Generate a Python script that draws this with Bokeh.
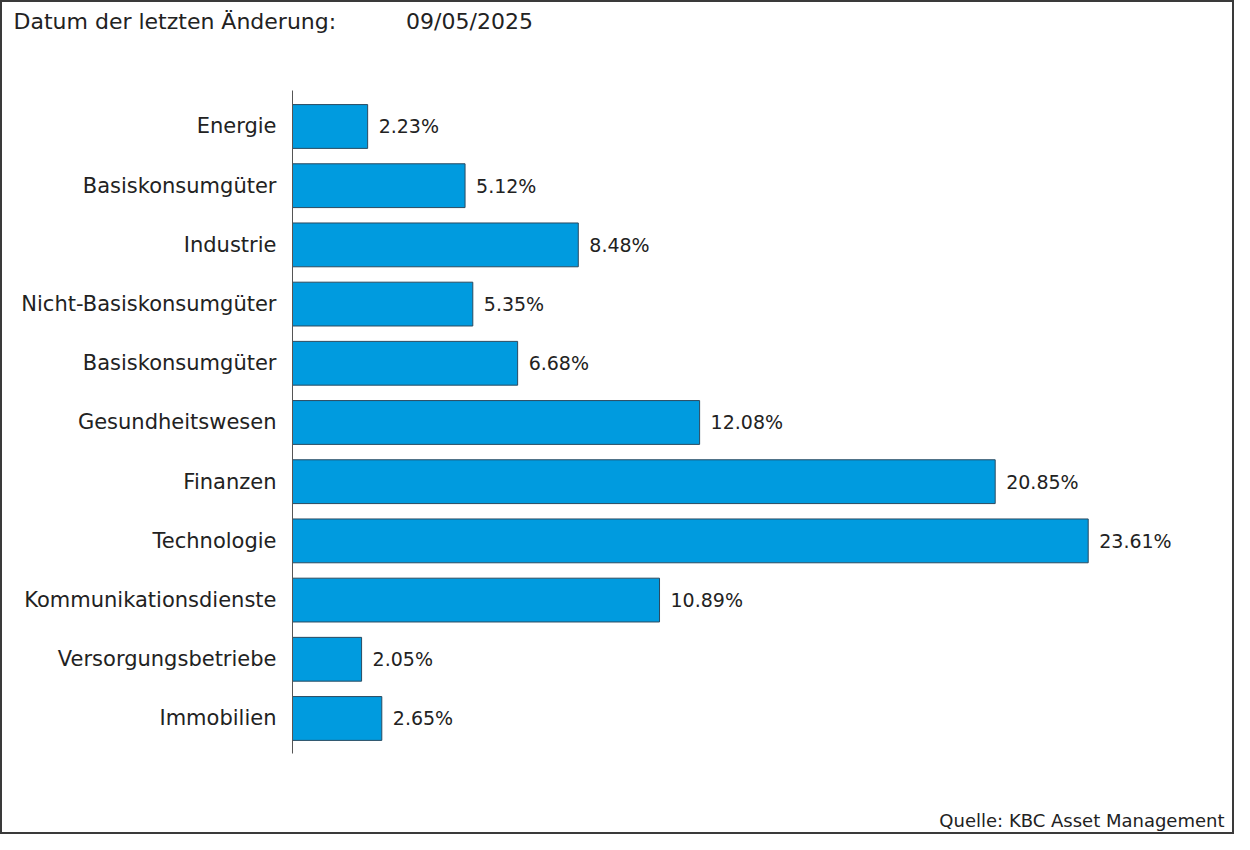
from bokeh.plotting import figure
from bokeh.models import Range1d, FixedTicker, Title, ColumnDataSource
from bokeh.core.properties import value
from bokeh.embed import file_html
from bokeh.resources import INLINE

categories = ["Energie", "Basiskonsumgüter", "Industrie", "Nicht-Basiskonsumgüter",
              "Basiskonsumgüter", "Gesundheitswesen", "Finanzen", "Technologie",
              "Kommunikationsdienste", "Versorgungsbetriebe", "Immobilien"]
weights = [2.23, 5.12, 8.48, 5.35, 6.68, 12.08, 20.85, 23.61, 10.89, 2.05, 2.65]
title_text = "Datum der letzten Änderung:"
date_text = "09/05/2025"
source_text = "Quelle: KBC Asset Management"

FONT = "DejaVu Sans"
TXT = "#222222"

pos = list(range(len(categories)))
src = ColumnDataSource(dict(
    y=pos, w=weights, lbl=[f"{v:.2f}%" for v in weights]))

p = figure(width=1234, height=834, output_backend="svg", toolbar_location=None,
           x_range=Range1d(0, 28.01), y_range=Range1d(11.47, -1.520),
           min_border_left=290, min_border_right=0, min_border_top=34,
           min_border_bottom=31)
p.styles = {"border": "2px solid #3a3a3a"}
p.outline_line_color = None
p.xgrid.visible = False
p.ygrid.visible = False
p.xaxis.visible = False
p.background_fill_color = "white"
p.border_fill_color = "white"

yax = p.yaxis[0]
yax.ticker = FixedTicker(ticks=pos)
yax.bounds = (-0.608, 10.59)
yax.major_label_overrides = {i: c for i, c in zip(pos, categories)}
yax.major_tick_line_color = None
yax.minor_tick_line_color = None
yax.axis_line_color = "#555555"
yax.axis_line_width = 1
yax.major_label_standoff = 10
yax.major_label_text_font = FONT
yax.major_label_text_font_size = "21px"
yax.major_label_text_color = TXT

p.hbar(y="y", left=0, right="w", height=0.74, source=src,
       fill_color="#009BDF", line_color="#2a4a60", line_width=1)
p.text(x="w", y="y", text="lbl", source=src, x_offset=11,
       text_align="left", text_baseline="middle",
       text_font=value(FONT), text_font_size="19px", text_color=TXT)

NB = "\u00a0"
head = Title(text=title_text + NB * 10 + date_text, align="left", offset=-279,
             standoff=6, text_font=FONT, text_font_size="22px",
             text_font_style="normal", text_color=TXT)
p.add_layout(head, "above")

foot = Title(text=source_text, align="right", offset=12, standoff=4,
             text_font=FONT, text_font_size="18px", text_font_style="normal",
             text_color=TXT)
p.add_layout(foot, "below")

open("out.html", "w").write(file_html(p, INLINE))
